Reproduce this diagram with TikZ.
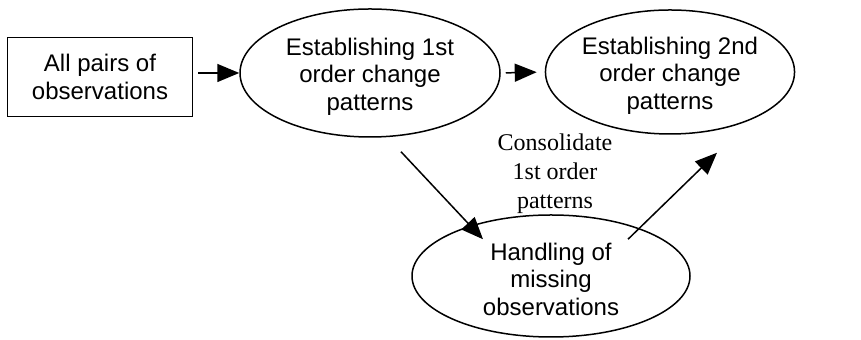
\documentclass[tikz,border=0pt]{standalone}
\usepackage{fontspec}
\setmainfont{Liberation Sans}
\newfontfamily\lblfont{Liberation Serif}
\usepackage{tikz}
\usetikzlibrary{arrows.meta, shapes.geometric, calc, positioning}
\newcommand{\topgap}{\rule{0pt}{12pt}}
\tikzset{
  stage/.style={ellipse, draw, line width=.75pt, align=center, inner sep=0pt,
    font=\fontsize{12}{13.75}\selectfont},
  src/.style={rectangle, draw, line width=.75pt, align=center, inner sep=0pt,
    font=\fontsize{12}{13.75}\selectfont},
  flow/.style={-{Triangle[length=11pt,width=9pt]}, line width=.75pt},
}

\begin{document}
\begin{tikzpicture}[x=.5pt, y=-.5pt]
\useasboundingbox (0,0) rectangle (861,340);
\node[src, minimum width=92.5pt, minimum height=39.5pt] (pairs) at (100,77) {All pairs of\\observations};
\node[stage, minimum width=130pt, minimum height=64pt] (first) at (370,73) {\topgap Establishing 1st\\order change\\patterns};
\node[stage, minimum width=124pt, minimum height=62pt] (second) at (670,72) {\topgap Establishing 2nd\\order change\\patterns};
\node[stage, minimum width=139pt, minimum height=61pt] (missing) at (551,276) {\topgap Handling of\\missing\\observations};
\node[align=center, font=\lblfont\fontsize{12}{14.5}\selectfont] (consol) at (555,174) {Consolidate\\1st order\\patterns};
\coordinate (c1) at ($(first.south)+(31,14)$);
\coordinate (c2) at ($(missing.north)+(-68,25)$);
\coordinate (c3) at ($(missing.north)+(77,25)$);
\coordinate (c4) at ($(second.south)+(47,18)$);
\draw[flow, shorten <=2.5pt] (pairs.east |- first.west) -- (first.west);
\draw[flow, shorten <=2.5pt, shorten >=4pt] (first.east) -- (second.west);
\draw[flow] (c1) -- (c2);
\draw[flow] (c3) -- (c4);
\end{tikzpicture}
\end{document}
